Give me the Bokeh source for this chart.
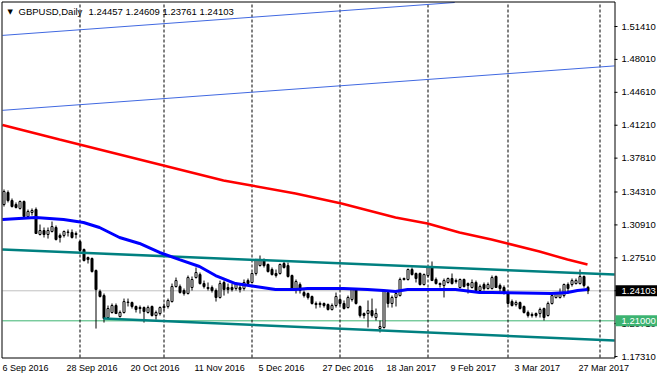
from bokeh.plotting import figure
from bokeh.models import Range1d, ColumnDataSource
from bokeh.core.properties import value
from bokeh.embed import file_html
from bokeh.resources import INLINE

# ---------------- data (GBPUSD daily, bar index 0 = 6 Sep 2016) ----------------
opens = [
    1.3302, 1.3426, 1.3343, 1.3302, 1.3261, 1.3333, 1.3178, 1.3219, 1.3250, 1.2992,
    1.3033, 1.2992, 1.3023, 1.3064, 1.2982, 1.2982, 1.3013, 1.3013, 1.2992, 1.2919,
    1.2837, 1.2754, 1.2744, 1.2620, 1.2403, 1.2361, 1.2134, 1.2186, 1.2258, 1.2144,
    1.2186, 1.2289, 1.2289, 1.2248, 1.2237, 1.2237, 1.2186, 1.2248, 1.2155, 1.2175,
    1.2237, 1.2248, 1.2299, 1.2454, 1.2454, 1.2413, 1.2382, 1.2444, 1.2547, 1.2578,
    1.2485, 1.2444, 1.2444, 1.2413, 1.2341, 1.2496, 1.2444, 1.2444, 1.2434, 1.2444,
    1.2434, 1.2516, 1.2496, 1.2589, 1.2671, 1.2723, 1.2682, 1.2630, 1.2589, 1.2589,
    1.2692, 1.2671, 1.2568, 1.2423, 1.2475, 1.2392, 1.2382, 1.2351, 1.2279, 1.2268,
    1.2279, 1.2268, 1.2217, 1.2258, 1.2320, 1.2279, 1.2237, 1.2320, 1.2423, 1.2248,
    1.2175, 1.2175, 1.2206, 1.2134, 1.2020, 1.2031, 1.2392, 1.2279, 1.2341, 1.2361,
    1.2537, 1.2527, 1.2630, 1.2589, 1.2589, 1.2475, 1.2568, 1.2651, 1.2527, 1.2485,
    1.2465, 1.2496, 1.2537, 1.2516, 1.2444, 1.2527, 1.2485, 1.2444, 1.2496, 1.2413,
    1.2475, 1.2434, 1.2434, 1.2558, 1.2465, 1.2444, 1.2382, 1.2299, 1.2268, 1.2289,
    1.2248, 1.2186, 1.2165, 1.2175, 1.2175, 1.2227, 1.2155, 1.2279, 1.2341, 1.2341,
    1.2361, 1.2475, 1.2475, 1.2485, 1.2485, 1.2558, 1.24457,
]
highs = [
    1.3457, 1.3447, 1.3364, 1.3323, 1.3343, 1.3343, 1.3250, 1.3261, 1.3271, 1.3095,
    1.3064, 1.3064, 1.3126, 1.3085, 1.3002, 1.3033, 1.3044, 1.3044, 1.3023, 1.2930,
    1.2847, 1.2764, 1.2754, 1.2630, 1.2423, 1.2382, 1.2258, 1.2279, 1.2279, 1.2206,
    1.2330, 1.2330, 1.2299, 1.2258, 1.2258, 1.2248, 1.2258, 1.2258, 1.2206, 1.2248,
    1.2279, 1.2330, 1.2485, 1.2547, 1.2475, 1.2434, 1.2568, 1.2558, 1.2651, 1.2599,
    1.2516, 1.2496, 1.2465, 1.2434, 1.2516, 1.2516, 1.2485, 1.2485, 1.2496, 1.2485,
    1.2527, 1.2537, 1.2599, 1.2733, 1.2775, 1.2744, 1.2692, 1.2651, 1.2630, 1.2692,
    1.2723, 1.2702, 1.2578, 1.2527, 1.2496, 1.2413, 1.2392, 1.2361, 1.2299, 1.2299,
    1.2289, 1.2279, 1.2279, 1.2392, 1.2341, 1.2310, 1.2361, 1.2434, 1.2434, 1.2258,
    1.2186, 1.2310, 1.2330, 1.2227, 1.2103, 1.2418, 1.2413, 1.2361, 1.2392, 1.2547,
    1.2547, 1.2640, 1.2651, 1.2599, 1.2599, 1.2589, 1.2661, 1.2713, 1.2547, 1.2496,
    1.2537, 1.2547, 1.2589, 1.2537, 1.2537, 1.2537, 1.2496, 1.2527, 1.2516, 1.2475,
    1.2496, 1.2496, 1.2568, 1.2568, 1.2485, 1.2465, 1.2392, 1.2320, 1.2310, 1.2299,
    1.2258, 1.2206, 1.2186, 1.2186, 1.2237, 1.2237, 1.2299, 1.2382, 1.2392, 1.2434,
    1.2485, 1.2496, 1.2537, 1.2537, 1.2630, 1.2568, 1.24609,
]
lows = [
    1.3281, 1.3323, 1.3271, 1.3261, 1.3250, 1.3168, 1.3168, 1.3188, 1.2998, 1.2982,
    1.2961, 1.2950, 1.3013, 1.2930, 1.2909, 1.2961, 1.2971, 1.2950, 1.2950, 1.2816,
    1.2713, 1.2692, 1.2599, 1.2020, 1.2341, 1.2082, 1.2124, 1.2175, 1.2170, 1.2134,
    1.2175, 1.2248, 1.2227, 1.2186, 1.2175, 1.2082, 1.2175, 1.2144, 1.2113, 1.2155,
    1.2206, 1.2227, 1.2289, 1.2444, 1.2382, 1.2361, 1.2372, 1.2413, 1.2537, 1.2475,
    1.2434, 1.2413, 1.2392, 1.2299, 1.2330, 1.2361, 1.2382, 1.2403, 1.2413, 1.2392,
    1.2413, 1.2465, 1.2485, 1.2568, 1.2661, 1.2651, 1.2599, 1.2568, 1.2547, 1.2578,
    1.2640, 1.2547, 1.2413, 1.2382, 1.2382, 1.2341, 1.2320, 1.2268, 1.2227, 1.2237,
    1.2237, 1.2206, 1.2206, 1.2237, 1.2258, 1.2217, 1.2227, 1.2299, 1.2268, 1.2134,
    1.2124, 1.2031, 1.2134, 1.2103, 1.1979, 1.2020, 1.2237, 1.2237, 1.2248, 1.2351,
    1.2516, 1.2516, 1.2568, 1.2496, 1.2465, 1.2465, 1.2547, 1.2511, 1.2475, 1.2444,
    1.2341, 1.2485, 1.2475, 1.2485, 1.2434, 1.2444, 1.2382, 1.2434, 1.2403, 1.2392,
    1.2413, 1.2423, 1.2423, 1.2444, 1.2403, 1.2372, 1.2268, 1.2248, 1.2248, 1.2217,
    1.2175, 1.2134, 1.2134, 1.2134, 1.2134, 1.2103, 1.2144, 1.2268, 1.2330, 1.2330,
    1.2341, 1.2382, 1.2454, 1.2475, 1.2475, 1.2444, 1.23761,
]
closes = [
    1.3436, 1.3343, 1.3281, 1.3271, 1.3333, 1.3178, 1.3230, 1.3240, 1.3002, 1.3033,
    1.2992, 1.3033, 1.3074, 1.2940, 1.2961, 1.3023, 1.3018, 1.2961, 1.3002, 1.2827,
    1.2723, 1.2733, 1.2609, 1.2423, 1.2351, 1.2124, 1.2227, 1.2258, 1.2175, 1.2186,
    1.2299, 1.2294, 1.2248, 1.2217, 1.2227, 1.2196, 1.2237, 1.2155, 1.2186, 1.2237,
    1.2248, 1.2310, 1.2454, 1.2516, 1.2392, 1.2382, 1.2547, 1.2527, 1.2599, 1.2485,
    1.2454, 1.2434, 1.2413, 1.2341, 1.2485, 1.2423, 1.2423, 1.2423, 1.2475, 1.2423,
    1.2496, 1.2485, 1.2589, 1.2723, 1.2723, 1.2671, 1.2609, 1.2578, 1.2568, 1.2682,
    1.2651, 1.2558, 1.2434, 1.2506, 1.2413, 1.2361, 1.2341, 1.2279, 1.2268, 1.2279,
    1.2258, 1.2217, 1.2258, 1.2351, 1.2279, 1.2227, 1.2341, 1.2423, 1.2279, 1.2155,
    1.2155, 1.2206, 1.2155, 1.2175, 1.2041, 1.2413, 1.2279, 1.2341, 1.2382, 1.2527,
    1.2527, 1.2630, 1.2578, 1.2537, 1.2475, 1.2578, 1.2651, 1.2516, 1.2485, 1.2475,
    1.2516, 1.2537, 1.2485, 1.2506, 1.2527, 1.2454, 1.2465, 1.2496, 1.2413, 1.2454,
    1.2434, 1.2475, 1.2547, 1.2444, 1.2434, 1.2382, 1.2279, 1.2258, 1.2289, 1.2227,
    1.2186, 1.2155, 1.2155, 1.2155, 1.2217, 1.2134, 1.2279, 1.2361, 1.2382, 1.2382,
    1.2475, 1.2434, 1.2516, 1.2516, 1.2558, 1.2465, 1.24103,
]

# moving averages (bar index, price)
ma_fast_bars = [-0.25, 8, 15, 20, 24, 29, 34, 39, 44, 49, 53, 58, 63, 68, 73, 76, 85, 91,
                95, 98, 101, 105, 113, 119, 122, 137, 141, 143.5, 146]
ma_fast = [1.3147, 1.3168, 1.3147, 1.3116, 1.3064, 1.2961, 1.2899, 1.2806, 1.2733, 1.2661,
           1.2568, 1.2485, 1.2454, 1.2423, 1.2423, 1.2434, 1.2434, 1.2423, 1.2413, 1.2403,
           1.2423, 1.2423, 1.2423, 1.2392, 1.2392, 1.2382, 1.2392, 1.2413, 1.2423]
ma_slow_bars = [-0.25, 14, 29, 42, 55, 62, 73, 84.5, 98, 106, 114, 122, 126, 134, 141, 146]
ma_slow = [1.4124, 1.3974, 1.3819, 1.3684, 1.3550, 1.3498, 1.3416, 1.3312, 1.3168, 1.3106,
           1.3013, 1.2940, 1.2899, 1.2816, 1.2733, 1.2682]

# trend lines: end points where they meet the chart edges (bar index, price)
chan_top_bars = [-0.25, 112.8]
chan_top = [1.5049, 1.5389]
chan_low_bars = [-0.25, 152.75]
chan_low = [1.4275, 1.4734]
reg_top_bars = [-0.25, 152.75]
reg_top = [1.2836, 1.2579]
reg_low_bars = [25, 152.75]
reg_low = [1.2124, 1.1897]

level_price = 1.21000
bid_price = 1.24103
header_symbol = "GBPUSD,Daily"
header_ohlc = "1.24457 1.24609 1.23761 1.24103"

separator_bars = [19, 40, 62, 84, 106, 126, 149]
date_tick_bars = [0, 16, 32, 48, 64, 80, 96, 112, 128, 144]
date_tick_labels = ["6 Sep 2016", "28 Sep 2016", "20 Oct 2016", "11 Nov 2016", "5 Dec 2016",
                    "27 Dec 2016", "18 Jan 2017", "9 Feb 2017", "3 Mar 2017", "27 Mar 2017"]
price_ticks = [1.17310, 1.20710, 1.24110, 1.27510, 1.30910, 1.34310, 1.37810,
               1.41210, 1.44610, 1.48010, 1.51410]

# ---------------- scales: chart frame is 612 x 355 px at (2, 2) ----------------
W, H = 657, 380
CHART_L, CHART_T, CHART_W, CHART_H = 2, 2, 612, 355
X0, X1 = -0.25, 152.75          # bars at chart left / right edge
Y0, Y1 = 1.1721, 1.5389         # prices at chart bottom / top
px_x = CHART_W / (X1 - X0)
px_y = CHART_H / (Y1 - Y0)
xa = X0 - CHART_L / px_x
xb = xa + W / px_x
yb = Y1 + CHART_T / px_y
ya = yb - H / px_y

FONT = value("Liberation Sans")

p = figure(width=W, height=H, x_range=Range1d(xa, xb), y_range=Range1d(ya, yb),
           output_backend="svg", toolbar_location=None,
           x_axis_location=None, y_axis_location=None, min_border=0)
p.background_fill_color = "white"
p.border_fill_color = "white"
p.outline_line_color = None
p.grid.visible = False

# horizontal levels and month separators (inside the chart only)
p.segment(x0=[X0], y0=[bid_price], x1=[X1], y1=[bid_price], line_color="#C0C0C0", line_width=1)
p.segment(x0=[X0], y0=[level_price], x1=[X1], y1=[level_price], line_color="#3CB371", line_width=1)
sep_x = [b + 0.125 for b in separator_bars]
p.segment(x0=sep_x, y0=[Y0] * len(sep_x), x1=sep_x, y1=[Y1] * len(sep_x),
          line_color="black", line_width=1, line_dash="3 2")

# candles
xs = [i + 0.125 for i in range(len(opens))]
bull = [c >= o for o, c in zip(opens, closes)]
src = ColumnDataSource(dict(
    x=xs, low=lows, high=highs,
    top=[max(o, c) for o, c in zip(opens, closes)],
    bottom=[min(o, c) for o, c in zip(opens, closes)],
    fill=["white" if b else "black" for b in bull],
))
p.segment(x0="x", y0="low", x1="x", y1="high", source=src, line_color="black", line_width=1)
p.vbar(x="x", width=0.5, top="top", bottom="bottom", source=src,
       fill_color="fill", line_color="black", line_width=1)

# indicators and trend lines
p.line(chan_top_bars, chan_top, line_color="#4169E1", line_width=1)
p.line(chan_low_bars, chan_low, line_color="#4169E1", line_width=1)
p.line(reg_top_bars, reg_top, line_color="#008080", line_width=2.5)
p.line(reg_low_bars, reg_low, line_color="#008080", line_width=2.5)
p.line(ma_slow_bars, ma_slow, line_color="#FF0000", line_width=2.5)
p.line(ma_fast_bars, ma_fast, line_color="#0000FF", line_width=3)

# chart frame
hx, hy = 0.5 / px_x, 0.5 / px_y
p.quad(left=[X0 - hx], right=[X1 + hx], bottom=[Y0 - hy], top=[Y1 + hy],
       fill_color=None, line_color="black", line_width=1)

# price scale on the right: ticks and labels
n = len(price_ticks)
p.segment(x0=[X1] * n, y0=price_ticks, x1=[X1 + 3 / px_x] * n, y1=price_ticks,
          line_color="black", line_width=1)
p.text(x=[X1 + 7 / px_x] * n, y=price_ticks, text=[f"{t:.5f}" for t in price_ticks],
       text_font=FONT, text_font_size=value("9.5px"), text_color="black",
       text_align="left", text_baseline="middle")

# price tags (bid and level)
tag_prices = [bid_price, level_price]
tag_colors = ["black", "#3CB371"]
p.quad(left=[X1 + 1 / px_x] * 2, right=[xb] * 2,
       bottom=[t - 5.5 / px_y for t in tag_prices], top=[t + 5.5 / px_y for t in tag_prices],
       fill_color=tag_colors, line_color=None)
p.text(x=[X1 + 7 / px_x] * 2, y=tag_prices, text=[f"{t:.5f}" for t in tag_prices],
       text_font=FONT, text_font_size=value("9.5px"), text_color="white",
       text_align="left", text_baseline="middle")

# time scale labels (left aligned at their bar)
nd = len(date_tick_bars)
p.text(x=[b - 0.25 for b in date_tick_bars], y=[Y0 - 10 / px_y] * nd, text=date_tick_labels,
       text_font=FONT, text_font_size=value("9px"), text_color="black",
       text_align="left", text_baseline="middle")

# header
hdr_y = Y1 - 9 / px_y
p.text(x=[X0 + 5 / px_x], y=[hdr_y], text=["\u25BC"], text_font=value("DejaVu Sans"),
       text_font_size=value("7px"), text_color="black", text_align="left", text_baseline="middle")
p.text(x=[X0 + 16 / px_x, X0 + 86 / px_x], y=[hdr_y, hdr_y], text=[header_symbol, header_ohlc],
       text_font=FONT, text_font_size=value("9.5px"), text_color="black",
       text_align="left", text_baseline="middle")

open("out.html", "w").write(file_html(p, INLINE))
